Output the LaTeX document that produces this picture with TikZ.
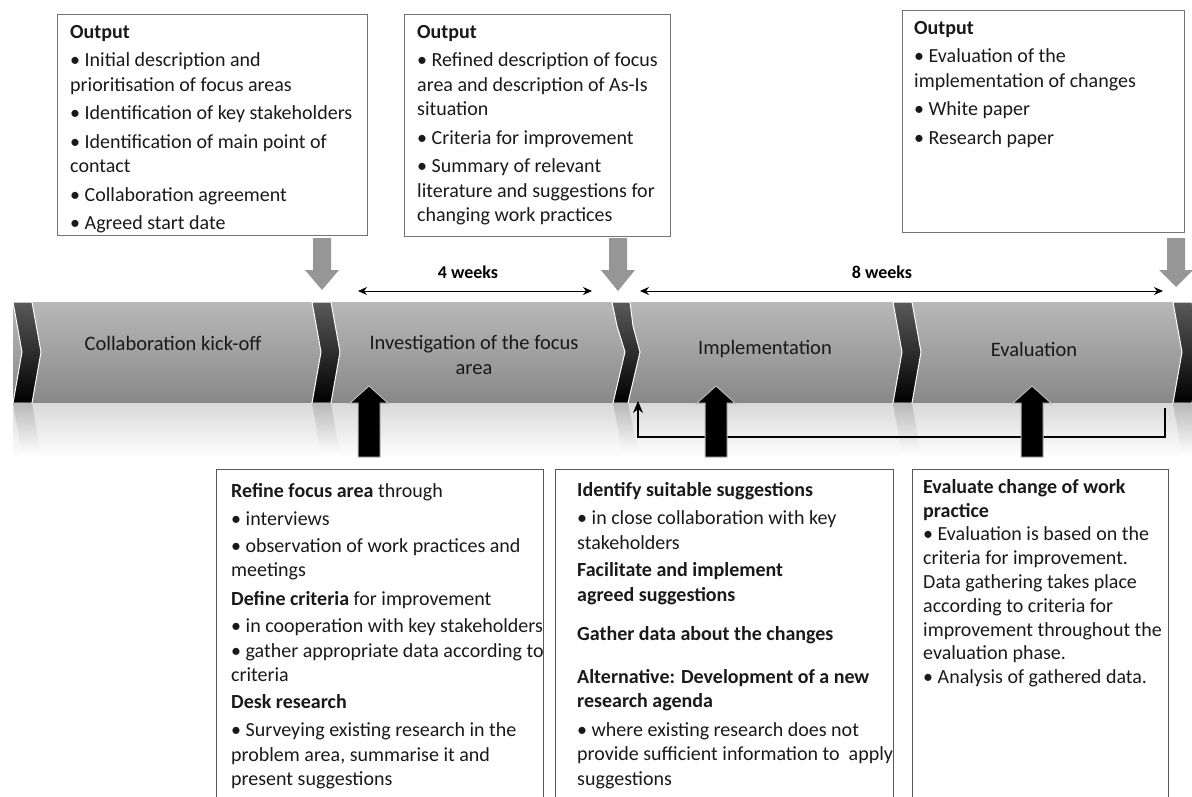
\documentclass[tikz,border=0pt]{standalone}
\usepackage{fontspec}
\setmainfont{Carlito}
\usetikzlibrary{arrows.meta}
\definecolor{bantop}{RGB}{184,184,184}
\definecolor{banbot}{RGB}{136,136,136}
\definecolor{downgray}{RGB}{150,150,150}
\tikzset{
  outbox/.style={draw=black!55, line width=1.4pt, anchor=north west, inner sep=0pt},
  actbox/.style={draw=black!65, line width=1pt, anchor=north west, inner sep=0pt},
  boxtext/.style={anchor=north west, inner sep=0pt, align=left, text=black!90, font=\fontsize{20}{24.5}\selectfont},
  phase/.style={inner sep=0pt, text=black!90, font=\fontsize{20.5}{25}\selectfont},
  weeks/.style={inner sep=0pt, font=\bfseries\fontsize{18}{22}\selectfont}
}
\begin{document}
\begin{tikzpicture}[x=1pt, y=-1pt, >={Stealth[length=9pt,width=8pt]}]
\clip (0,0) rectangle (1192,796);

% banner and its reflection
\shade[top color=bantop, bottom color=banbot] (13,302) rectangle (1192,403);
\shade[top color=gray!30, bottom color=white] (13,403) rectangle (1192,458);
\foreach \x in {13,312,893,1173}{
  \shade[top color=gray!70!black, bottom color=black, draw=white, line width=1pt]
    (\x,302) -- ++(19,0) -- ++(9,50) -- ++(-9,51) -- ++(-19,0) -- ++(9,-51) -- cycle;
  \shade[top color=gray!55, bottom color=white] (\x,403) -- ++(19,0) -- ++(9,52) -- ++(-19,0) -- cycle;
}
\shade[top color=gray!70!black, bottom color=black, draw=white, line width=1pt]
  (612,302) -- (630,302) -- (633,326) -- (640,352) -- (628,403) -- (613,403) -- (625,352) -- (617,326) -- cycle;
\shade[top color=gray!55, bottom color=white] (613,403) -- (628,403) -- (639,455) -- (623,455) -- cycle;

\node[phase] (kick) at (173,343) {Collaboration kick-off};
\node[phase, align=center] (invest) at (474,355) {Investigation of the focus\\area};
\node[phase] (impl) at (765,349) {Implementation};
\node[phase] (eval) at (1034,349) {Evaluation};

% durations
\coordinate (d4a) at (358,291);
\coordinate (d4b) at (592,291);
\coordinate (d8a) at (640,291);
\coordinate (d8b) at (1163,291);
\draw[<->, line width=1pt] (d4a) -- (d4b);
\draw[<->, line width=1pt] (d8a) -- (d8b);
\node[weeks] (w4) at (468,272) {4 weeks};
\node[weeks] (w8) at (882,272) {8 weeks};

% outputs
\node[outbox, minimum width=310, minimum height=221] (out1) at (57,14) {};
\node[outbox, minimum width=266, minimum height=222] (out2) at (404,14) {};
\node[outbox, minimum width=282, minimum height=222] (out3) at (902,10) {};

\node[boxtext] (out1txt) at (70,25) {\textbf{Output}\\[4pt]
• Initial description and\\
prioritisation of focus areas\\[4pt]
• Identification of key stakeholders\\[4pt]
• Identification of main point of\\
contact\\[4pt]
• Collaboration agreement\\[4pt]
• Agreed start date};
\node[boxtext] (out2txt) at (417,25) {\textbf{Output}\\[4pt]
• Refined description of focus\\
area and description of As-Is\\
situation\\[4pt]
• Criteria for improvement\\[4pt]
• Summary of relevant\\
literature and suggestions for\\
changing work practices};
\node[boxtext] (out3txt) at (914,21) {\textbf{Output}\\[4pt]
• Evaluation of the\\
implementation of changes\\[4pt]
• White paper\\[4pt]
• Research paper};

\foreach \x/\t in {322/290, 618/291, 1176/287}
  \fill[downgray] (\x-9,238) -- (\x+9,238) -- (\x+9,270) -- (\x+17,270) -- (\x,\t) -- (\x-17,270) -- (\x-9,270) -- cycle;

% feedback loop
\coordinate (fbfrom) at (1165,408);
\coordinate (fbto) at (638,401);
\draw[-{Stealth[length=12pt,width=10pt]}, line width=1.8pt] (fbfrom) -- (1165,437) -| (fbto);

\foreach \x in {369,716,1032}
  \fill[black, draw=gray!55, line width=1pt] (\x-11,457) -- (\x-11,403) -- (\x-19,403) -- (\x,386) -- (\x+19,403) -- (\x+11,403) -- (\x+11,457) -- cycle;

% activities
\node[actbox, minimum width=327, minimum height=340] (act1) at (216,469) {};
\node[actbox, minimum width=338, minimum height=340] (act2) at (555,469) {};
\node[actbox, minimum width=256, minimum height=340] (act3) at (912,469) {};

\node[boxtext] (act1txt) at (231,483) {\textbf{Refine focus area} through\\[4pt]
• interviews\\[2pt]
• observation of work practices and\\
meetings\\[4pt]
\textbf{Define criteria} for improvement\\[3pt]
• in cooperation with key stakeholders\\
• gather appropriate data according to\\
criteria\\[2pt]
\textbf{Desk research}\\[4pt]
• Surveying existing research in the\\
problem area, summarise it and\\
present suggestions};
\node[boxtext] (act2txt) at (577,482) {\textbf{Identify suitable suggestions}\\[4pt]
• in close collaboration with key\\
stakeholders\\[3pt]
\textbf{Facilitate and implement}\\
\textbf{agreed suggestions}\\[15pt]
\textbf{Gather data about the changes}\\[18pt]
\textbf{Alternative: Development of a new}\\
\textbf{research agenda}\\[4pt]
• where existing research does not\\
provide sufficient information to~ apply\\
suggestions};
\node[boxtext, font=\fontsize{20}{23.8}\selectfont] (act3txt) at (923,479) {\textbf{Evaluate change of work}\\
\textbf{practice}\\
• Evaluation is based on the\\
criteria for improvement.\\
Data gathering takes place\\
according to criteria for\\
improvement throughout the\\
evaluation phase.\\
• Analysis of gathered data.};
\end{tikzpicture}
\end{document}
